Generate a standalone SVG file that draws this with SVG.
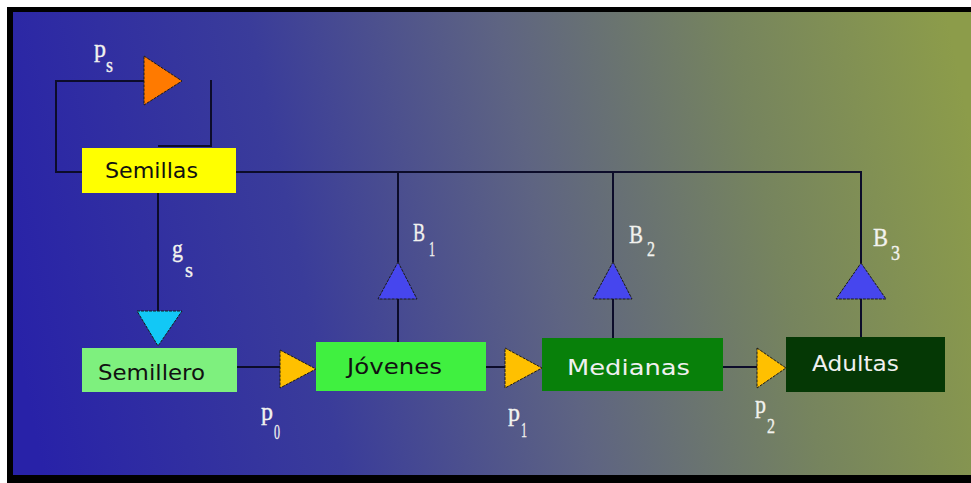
<svg xmlns="http://www.w3.org/2000/svg" width="971" height="483" viewBox="0 0 971 483">
<defs>
<linearGradient id="bg" gradientUnits="userSpaceOnUse" x1="13" y1="330" x2="971" y2="130">
<stop offset="0" stop-color="#2822a8"/>
<stop offset="0.3" stop-color="#3a3c9a"/>
<stop offset="0.55" stop-color="#5e6482"/>
<stop offset="0.78" stop-color="#76845e"/>
<stop offset="1" stop-color="#8c9c4a"/>
</linearGradient>
</defs>
<style>
.box-text{font-family:"DejaVu Sans","Liberation Sans",sans-serif;font-size:22px}
.lbl{font-family:"Liberation Serif","DejaVu Serif",serif;fill:#f2f2ee;stroke:#f2f2ee;stroke-width:0.35}
.main{font-size:26px}
.sub{font-size:21px}
.ln{fill:none;stroke:#0c0c2a;stroke-width:2}
.tri{stroke:#1a1a1a;stroke-width:1;stroke-dasharray:3 1}
.blue{fill:#4646ee}
.gold{fill:#ffc000}
</style>
<rect x="0" y="0" width="971" height="483" fill="#ffffff"/>
<rect x="7" y="7" width="964" height="476" fill="#000000"/>
<rect x="13" y="12" width="958" height="463" fill="url(#bg)"/>

<g id="connectors">
<path class="ln" d="M82,172 H56 V81 H144"/>
<path class="ln" d="M211,80 V146 H158"/>
<path class="ln" d="M236,172 H861 V263"/>
<path class="ln" d="M398,172 V262"/>
<path class="ln" d="M613,172 V262"/>
<path class="ln" d="M398,299 V342"/>
<path class="ln" d="M613,299 V338"/>
<path class="ln" d="M861,299 V337"/>
<path class="ln" d="M158,193 V311"/>
<path class="ln" d="M237,367 H280"/>
<path class="ln" d="M486,367 H505"/>
<path class="ln" d="M723,367 H757"/>

<g id="t-ps">
<path class="tri" fill="#ff7a00" d="M144,56 L182,81 L144,105 Z"/>
<text class="lbl main" x="94" y="57" textLength="12" lengthAdjust="spacingAndGlyphs">p</text>
<text class="lbl sub" x="106" y="72" textLength="7" lengthAdjust="spacingAndGlyphs">s</text>
</g>
<g id="t-gs">
<path class="tri" fill="#12c8f6" d="M137,311 L182,311 L158,346 Z"/>
<text class="lbl main" x="172" y="257" textLength="11" lengthAdjust="spacingAndGlyphs">g</text>
<text class="lbl sub" x="185" y="277" textLength="8" lengthAdjust="spacingAndGlyphs">s</text>
</g>
<g id="t-p0">
<path class="tri gold" d="M280,350 L316,369 L280,388 Z"/>
<text class="lbl main" x="261" y="420" textLength="12" lengthAdjust="spacingAndGlyphs">p</text>
<text class="lbl sub" x="274" y="439" textLength="6" lengthAdjust="spacingAndGlyphs">0</text>
</g>
<g id="t-p1">
<path class="tri gold" d="M505,348 L542,368 L505,388 Z"/>
<text class="lbl main" x="508" y="421" textLength="12" lengthAdjust="spacingAndGlyphs">p</text>
<text class="lbl sub" x="521" y="437" textLength="6" lengthAdjust="spacingAndGlyphs">1</text>
</g>
<g id="t-p2">
<path class="tri gold" d="M757,348 L786,368 L757,388 Z"/>
<text class="lbl main" x="755" y="413" textLength="11" lengthAdjust="spacingAndGlyphs">p</text>
<text class="lbl sub" x="767" y="433" textLength="8" lengthAdjust="spacingAndGlyphs">2</text>
</g>
<g id="t-b1">
<path class="tri blue" d="M398,262 L417,299 L378,299 Z"/>
<text class="lbl main" x="413" y="241" textLength="12" lengthAdjust="spacingAndGlyphs">B</text>
<text class="lbl sub" x="429" y="256" textLength="6" lengthAdjust="spacingAndGlyphs">1</text>
</g>
<g id="t-b2">
<path class="tri blue" d="M613,262 L632,299 L593,299 Z"/>
<text class="lbl main" x="629" y="243" textLength="14" lengthAdjust="spacingAndGlyphs">B</text>
<text class="lbl sub" x="647" y="256" textLength="8" lengthAdjust="spacingAndGlyphs">2</text>
</g>
<g id="t-b3">
<path class="tri blue" d="M861,263 L886,299 L836,299 Z"/>
<text class="lbl main" x="873" y="246" textLength="15" lengthAdjust="spacingAndGlyphs">B</text>
<text class="lbl sub" x="891" y="260" textLength="9" lengthAdjust="spacingAndGlyphs">3</text>
</g>
</g>

<g id="semillas">
<rect x="82" y="148" width="154" height="45" fill="#ffff00"/>
<text class="box-text" x="105" y="178" fill="#111" textLength="93" lengthAdjust="spacingAndGlyphs">Semillas</text>
</g>
<g id="semillero">
<rect x="82" y="348" width="155" height="44" fill="#7ef07e"/>
<text class="box-text" x="98" y="380" fill="#111" font-size="23" textLength="107" lengthAdjust="spacingAndGlyphs">Semillero</text>
</g>
<g id="jovenes">
<rect x="316" y="342" width="170" height="49" fill="#40f040"/>
<text class="box-text" x="347" y="374" fill="#111" font-size="23" textLength="95" lengthAdjust="spacingAndGlyphs">Jóvenes</text>
</g>
<g id="medianas">
<rect x="542" y="338" width="181" height="53" fill="#08800a"/>
<text class="box-text" x="567" y="375" fill="#f0f0f0" font-size="21" textLength="123" lengthAdjust="spacingAndGlyphs">Medianas</text>
</g>
<g id="adultas">
<rect x="786" y="337" width="159" height="55" fill="#053805"/>
<text class="box-text" x="812" y="371" fill="#f0f0f0" font-size="23" textLength="87" lengthAdjust="spacingAndGlyphs">Adultas</text>
</g>
</svg>
